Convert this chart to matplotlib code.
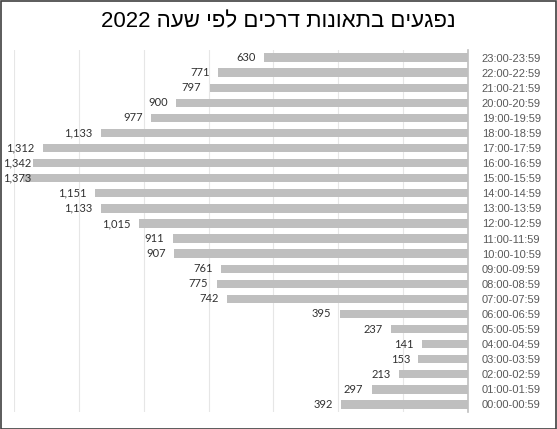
import matplotlib.pyplot as plt
from matplotlib.patches import Rectangle

hours = [f"{h:02d}:00-{h:02d}:59" for h in range(24)]
casualties = [392, 297, 213, 153, 141, 237, 395, 742, 775, 761, 907, 911,
              1015, 1133, 1151, 1373, 1342, 1312, 1133, 977, 900, 797, 771, 630]
title_he = "נפגעים בתאונות דרכים לפי שעה"
year = "2022"

fig = plt.figure(figsize=(5.57, 4.29), dpi=100)
ax = fig.add_axes([0.0251, 0.0396, 0.8151, 0.8438])

y = list(range(len(hours)))
ax.barh(y, casualties, height=0.55, color='#BFBFBF', zorder=2)
ax.set_xlim(1400, 0)
ax.set_ylim(-0.5, len(hours) - 0.5)

labels = []
for v, yy in zip(casualties, y):
    t = ax.annotate(f"{v:,}", (v, yy), xytext=(-6, 0), textcoords='offset points',
                    ha='right', va='center', fontsize=8, color='#303030',
                    family='Lato', annotation_clip=False, zorder=3)
    labels.append(t)

ax.yaxis.tick_right()
ax.set_yticks(y)
ax.set_yticklabels(hours, fontsize=8, color='#595959', family='Liberation Sans')
ax.tick_params(axis='y', length=0, pad=10)
ax.set_xticks(range(0, 1401, 200))
ax.tick_params(axis='x', length=0, labelbottom=False)
ax.grid(axis='x', color='#E6E6E6', linewidth=0.8, zorder=0)

for s in ['top', 'bottom', 'left']:
    ax.spines[s].set_visible(False)
ax.spines['right'].set_color('#BFBFBF')
ax.spines['right'].set_linewidth(1.2)

# matplotlib lays text left-to-right, so the Hebrew is put in visual order
fig.text(0.5, 0.948, year + " " + title_he[::-1], ha='center', va='center',
         fontsize=16, color='#000000', family='Liberation Sans')

fig.patches.append(Rectangle((0.001, 0.001), 0.997, 0.997, transform=fig.transFigure,
                             fill=False, edgecolor='#404040', linewidth=1.2))

# like Excel, push labels that spill out of the chart back inside
fig.canvas.draw()
r = fig.canvas.get_renderer()
for t in labels:
    bb = t.get_window_extent(r)
    if bb.x0 < 3:
        dx = (3 - bb.x0) * 72 / fig.dpi
        ox, oy = t.xyann
        t.xyann = (ox + dx, oy)

fig.savefig("out.png", dpi=100)
